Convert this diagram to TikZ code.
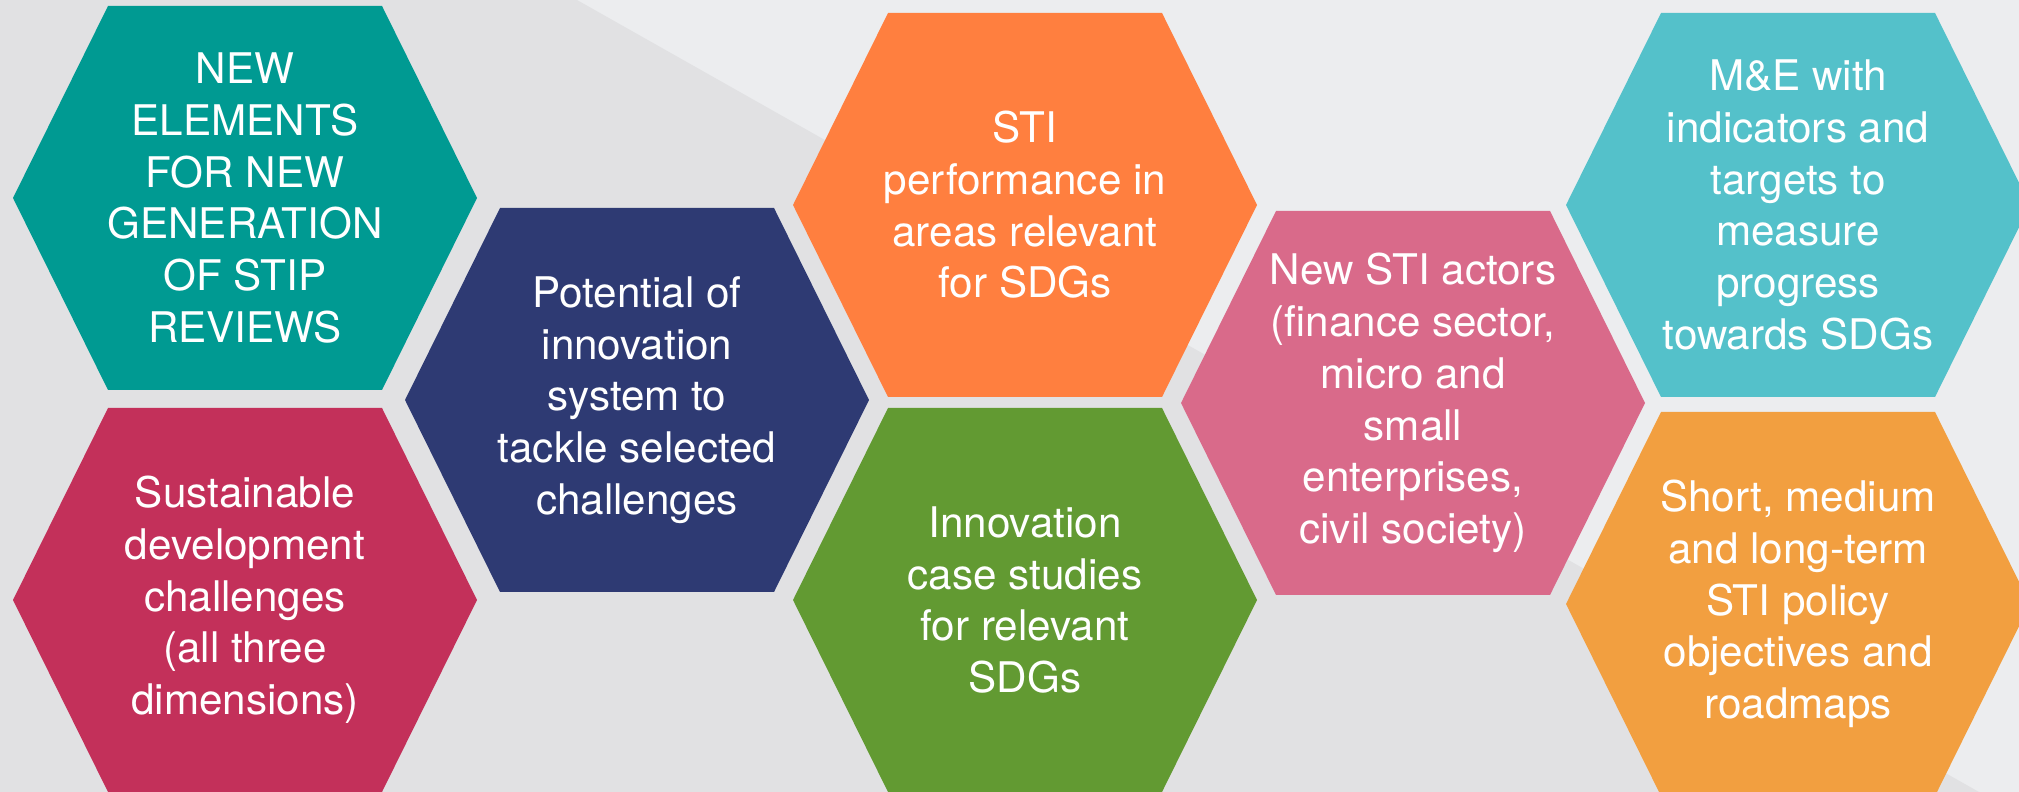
\documentclass[tikz,border=0pt]{standalone}
\usepackage{fontspec}
\setmainfont{TeX Gyre Heros}
\usepackage{tikz}
\definecolor{bgLight}{HTML}{ECEDEF}
\definecolor{bgDark}{HTML}{E1E1E3}
\definecolor{cTeal}{HTML}{009A92}
\definecolor{cCrimson}{HTML}{C3305A}
\definecolor{cNavy}{HTML}{2E3A73}
\definecolor{cOrange}{HTML}{FF7F3F}
\definecolor{cGreen}{HTML}{629A32}
\definecolor{cPink}{HTML}{D96A8A}
\definecolor{cAqua}{HTML}{54C1CA}
\definecolor{cAmber}{HTML}{F29F40}
\tikzstyle{cell}=[text=white,align=center,inner sep=0pt,font=\fontsize{12}{14.7}\selectfont]

\begin{document}
\begin{tikzpicture}[x=0.01cm,y=-0.01cm]
    % Background: two grey tones split by a diagonal
    \useasboundingbox (0,0) rectangle (2019,792);
    \clip (0,0) rectangle (2019,792);
    \fill[bgLight] (0,0) rectangle (2019,792);
    \fill[bgDark] (0,0) -- (577,0) -- (1979,792) -- (0,792) -- cycle;
    % Then the hexagons, each with its text
    \foreach \pos/\name/\col/\txt in {
        {(245,198)/elements/cTeal/{NEW\\ELEMENTS\\FOR NEW\\GENERATION\\OF STIP\\REVIEWS}},
        {(245,600)/challenges/cCrimson/{Sustainable\\development\\challenges\\(all three\\dimensions)}},
        {(637,400)/potential/cNavy/{Potential of\\innovation\\system to\\tackle selected\\challenges}},
        {(1025,205)/performance/cOrange/{STI\\performance in\\areas relevant\\for SDGs}},
        {(1025,600)/cases/cGreen/{Innovation\\case studies\\for relevant\\SDGs}},
        {(1413,403)/actors/cPink/{New STI actors\\(finance sector,\\micro and\\small\\enterprises,\\civil society)}},
        {(1798,205)/monitoring/cAqua/{M\&E with\\indicators and\\targets to\\measure\\progress\\towards SDGs}},
        {(1798,604)/objectives/cAmber/{Short, medium\\and long-term\\STI policy\\objectives and\\roadmaps}}}
    {
        \fill[\col] \pos ++(-137,-192) -- ++(274,0) -- ++(95,192) -- ++(-95,192) -- ++(-274,0) -- ++(-95,-192) -- cycle;
        \node[cell] (\name) at \pos {\txt};
    }
\end{tikzpicture}
\end{document}
